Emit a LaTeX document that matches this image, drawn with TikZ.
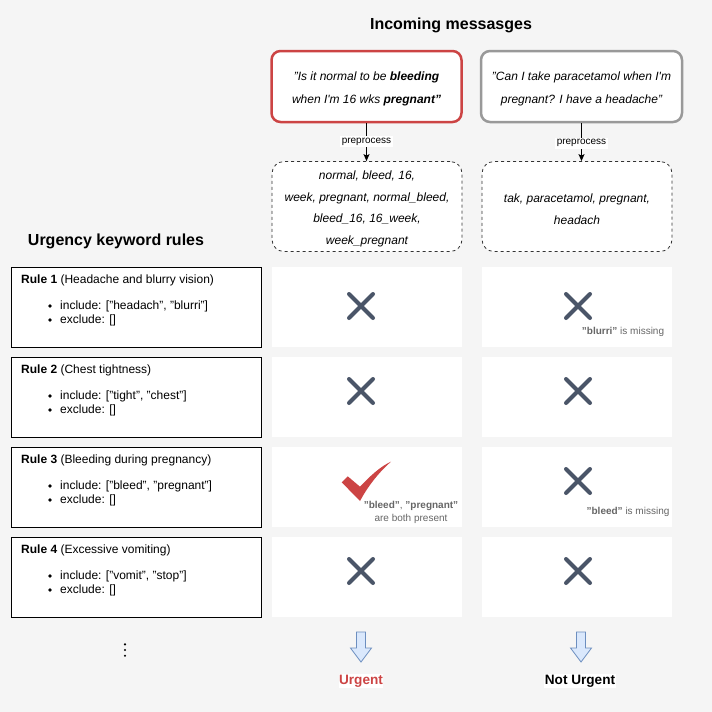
\documentclass[tikz,border=0pt]{standalone}
\usepackage{fontspec}
\setmainfont{Liberation Sans}
\usetikzlibrary{arrows.meta}
\definecolor{bgc}{HTML}{F5F5F5}
\definecolor{redc}{RGB}{204,68,68}
\definecolor{grayb}{HTML}{999999}
\definecolor{xcol}{RGB}{74,85,104}
\definecolor{notec}{HTML}{666666}
\definecolor{arrfill}{HTML}{DAE8FC}
\definecolor{arrdraw}{HTML}{6C8EBF}
\newcommand{\pxs}[2]{\fontsize{#1pt}{#2pt}\selectfont}
\newcommand{\apo}{\textquotesingle}
\begin{document}
\begin{tikzpicture}[x=1pt,y=-1pt,
  msg/.style={rounded corners=9pt, line width=2.5pt, fill=white, minimum width=#1, minimum height=71pt, inner sep=0pt},
  msgtext/.style={align=center, font=\pxs{12}{22.7}\itshape, inner sep=0pt},
  toktext/.style={align=center, font=\pxs{12}{21.7}\itshape, inner sep=0pt},
  tok/.style={draw=black!80, line width=0.8pt, dash pattern=on 3pt off 3pt, rounded corners=12pt, fill=white, minimum width=190pt, minimum height=90pt, inner sep=0pt},
  cell/.style={fill=white, minimum width=190pt, minimum height=80pt, inner sep=0pt},
  rulebox/.style={draw=black, line width=1pt, fill=white, minimum width=250pt, minimum height=80pt, inner sep=0pt},
  rtxt/.style={font=\pxs{12}{14}, inner sep=0pt, anchor=west},
  note/.style={text=notec, font=\pxs{10}{12.7}, inner sep=0pt, align=center},
  lbl/.style={fill=white, font=\pxs{10}{12}, inner sep=1.5pt},
  head/.style={font=\bfseries\pxs{16}{19}, inner sep=0pt},
  res/.style={font=\bfseries\pxs{13.6}{16}, inner sep=0.5pt, fill=white},
  flow/.style={line width=1pt, -{Stealth[length=7pt,width=6pt,inset=1.5pt]}},
  blockarrow/.style={fill=arrfill, draw=arrdraw, line width=0.8pt, line join=miter},
  xmk/.pic={\draw[xcol, line width=4pt, line cap=round] (-12,-12) -- (12,12) (-12,12) -- (12,-12);}
]
\fill[bgc] (0,0) rectangle (712,712);
\useasboundingbox (0,0) rectangle (712,712);

% headings
\node[head] (title) at (451,25) {Incoming messasges};
\node[head] (rtitle) at (116,241) {Urgency keyword rules};

% messages
\node[msg=190pt, draw=redc] (m1) at (366.5,86.5) {};
\node[msgtext] (mt1) at (366.5,89) {"Is it normal to be \textbf{bleeding}\\ when I\apo m 16 wks \textbf{pregnant"}};
\node[msg=201pt, draw=grayb] (m2) at (581.5,86.5) {};
\node[msgtext] (mt2) at (581.5,89) {"Can I take paracetamol when I\apo m\\ pregnant? I have a headache"};

% tokens
\node[tok] (t1) at (367,206.5) {};
\node[toktext] (tt1) at (367,209) {normal, bleed, 16,\\ week, pregnant, normal\_bleed,\\ bleed\_16, 16\_week,\\ week\_pregnant};
\node[tok] (t2) at (577,206.5) {};
\node[toktext] (tt2) at (577,209) {tak, paracetamol, pregnant,\\ headach};

% preprocess arrows
\draw[flow] (m1.south) -- node[lbl, pos=0.48] (p1) {preprocess} (m1.south |- t1.north);
\draw[flow] (m2.south) -- node[lbl, pos=0.53] (p2) {preprocess} (m2.south |- t2.north);

% rule boxes
\foreach \i/\y in {1/307,2/397,3/487,4/577}{
  \node[rulebox] (r\i) at (136,\y) {};
  \node[cell] (c\i a) at (367,\y) {};
  \node[cell] (c\i b) at (577,\y) {};
}
\node[rtxt] (r1t) at (21,280) {\textbf{Rule 1} (Headache and blurry vision)};
\node[rtxt] (r1i) at (60,306) {include: ["headach", "blurri"]};
\node[rtxt] (r1e) at (60,320) {exclude: []};
\node[rtxt] (r2t) at (21,370) {\textbf{Rule 2} (Chest tightness)};
\node[rtxt] (r2i) at (60,396) {include: ["tight", "chest"]};
\node[rtxt] (r2e) at (60,410) {exclude: []};
\node[rtxt] (r3t) at (21,460) {\textbf{Rule 3} (Bleeding during pregnancy)};
\node[rtxt] (r3i) at (60,486) {include: ["bleed", "pregnant"]};
\node[rtxt] (r3e) at (60,500) {exclude: []};
\node[rtxt] (r4t) at (21,550) {\textbf{Rule 4} (Excessive vomiting)};
\node[rtxt] (r4i) at (60,576) {include: ["vomit", "stop"]};
\node[rtxt] (r4e) at (60,590) {exclude: []};
\foreach \y in {306,320,396,410,486,500,576,590}{
  \fill (50,\y) circle (1.8);
}

% marks
\pic at (361,306) {xmk};
\pic at (578,306) {xmk};
\pic at (361,391) {xmk};
\pic at (578,391) {xmk};
\pic at (578,481) {xmk};
\pic at (361,571) {xmk};
\pic at (578,571) {xmk};
\fill[redc] (341.7,482.3) -- (347.7,476.3) -- (360,486.7)
  .. controls (370,476) and (381,466) .. (391,461.7)
  .. controls (377,474) and (367,488) .. (360,501) -- cycle;

% notes
\node[note] (n12) at (623,332) {\textbf{"blurri"} is missing};
\node[note] (n31) at (411,512.5) {\textbf{"bleed"}, \textbf{"pregnant"}\\ are both present};
\node[note] (n32) at (628,512) {\textbf{"bleed"} is missing};

% more rules dots
\foreach \y in {644.3,650,655.7}{
  \fill (125,\y) circle (1.2);
}

% outcome arrows
\filldraw[blockarrow] (356.5,632) -- (365.5,632) -- (365.5,648) -- (371.5,648) -- (361,662) -- (350.5,648) -- (356.5,648) -- cycle;
\filldraw[blockarrow] (576.5,632) -- (585.5,632) -- (585.5,648) -- (591.5,648) -- (581,662) -- (570.5,648) -- (576.5,648) -- cycle;
\node[res, text=redc] (urg) at (361,681) {Urgent};
\node[res, text=black] (nurg) at (580,681) {Not Urgent};
\end{tikzpicture}
\end{document}
